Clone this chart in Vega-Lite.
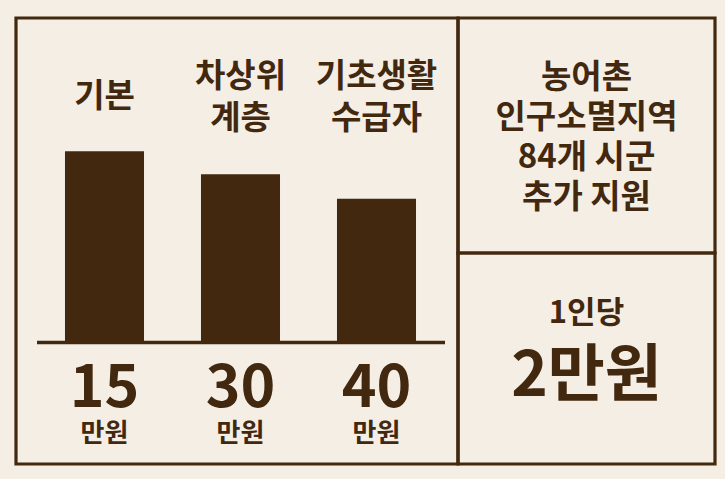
{
  "$schema": "https://vega.github.io/schema/vega-lite/v6.json",
  "background": "#F4EEE4",
  "padding": {"left": 14, "top": 16, "right": 12, "bottom": 17},
  "config": {
    "view": {"stroke": "#42280F", "strokeWidth": 3.2, "fill": null},
    "font": "Noto Sans CJK KR",
    "text": {"font": "Noto Sans CJK KR", "fontWeight": "bold", "color": "#42280F"}
  },
  "datasets": {
    "benefits": [
      {"category": "기본", "bar": 58.9, "amount": "15", "unit": "만원"},
      {"category": "차상위 계층", "bar": 51.8, "amount": "30", "unit": "만원"},
      {"category": "기초생활 수급자", "bar": 44.2, "amount": "40", "unit": "만원"}
    ],
    "region": [
      {"text": "농어촌\n인구소멸지역\n84개 시군\n추가 지원"}
    ],
    "extra": [
      {"per": "1인당", "value": "2만원"}
    ]
  },
  "bounds": "flush",
  "spacing": 0,
  "hconcat": [
    {
      "width": 442,
      "height": 446,
      "data": {"name": "benefits"},
      "layer": [
        {
          "mark": {"type": "bar", "color": "#42280F"},
          "encoding": {
            "x": {
              "field": "category", "type": "nominal", "sort": null,
              "scale": {"range": [20.5, 428.5], "paddingInner": 0.419, "paddingOuter": 0.2095},
              "axis": {
                "orient": "top", "offset": -100, "title": null, "domain": false, "ticks": false, "tickSize": 0,
                "labelPadding": {"condition": {"test": "datum.value == '기본'", "value": 22}, "value": 42},
                "labelAngle": 0, "labelBaseline": "middle", "labelAlign": "center",
                "labelFont": "Noto Sans CJK KR", "labelFontWeight": "bold", "labelFontSize": 33,
                "labelLineHeight": 42, "labelColor": "#42280F", "labelExpr": "split(datum.value, ' ')"
              }
            },
            "y": {
              "field": "bar", "type": "quantitative",
              "scale": {"domain": [0, 100], "range": [324, 0]},
              "axis": null
            }
          }
        },
        {
          "mark": {"type": "text", "fontSize": 59, "baseline": "middle", "align": "center", "dy": 47},
          "encoding": {
            "x": {
              "field": "category", "type": "nominal", "sort": null,
              "axis": {
                "orient": "bottom", "offset": -122, "title": null, "labels": false, "ticks": false,
                "domain": true, "domainColor": "#42280F", "domainWidth": 3.5, "grid": false
              }
            },
            "y": {"datum": 0, "type": "quantitative"},
            "text": {"field": "amount", "type": "nominal"}
          }
        },
        {
          "mark": {"type": "text", "fontSize": 26, "baseline": "middle", "align": "center", "dy": 92},
          "encoding": {
            "x": {"field": "category", "type": "nominal", "sort": null, "axis": null},
            "y": {"datum": 0, "type": "quantitative"},
            "text": {"field": "unit", "type": "nominal"}
          }
        }
      ],
      "resolve": {"axis": {"x": "independent"}}
    },
    {
      "spacing": 0,
      "bounds": "flush",
      "vconcat": [
        {
          "width": 257,
          "height": 235,
          "data": {"name": "region"},
          "mark": {"type": "text", "fontSize": 33, "lineHeight": 40, "lineBreak": "\n", "align": "center", "baseline": "middle", "dy": -58},
          "encoding": {
            "x": {"field": "text", "type": "nominal", "axis": null},
            "text": {"field": "text", "type": "nominal"}
          }
        },
        {
          "width": 257,
          "height": 211,
          "data": {"name": "extra"},
          "encoding": {
            "x": {"field": "per", "type": "nominal", "axis": null}
          },
          "layer": [
            {
              "mark": {"type": "text", "fontSize": 31, "align": "center", "baseline": "middle", "dy": -45},
              "encoding": {"text": {"field": "per", "type": "nominal"}}
            },
            {
              "mark": {"type": "text", "fontSize": 62, "align": "center", "baseline": "middle", "dy": 18},
              "encoding": {"text": {"field": "value", "type": "nominal"}}
            }
          ]
        }
      ]
    }
  ]
}
